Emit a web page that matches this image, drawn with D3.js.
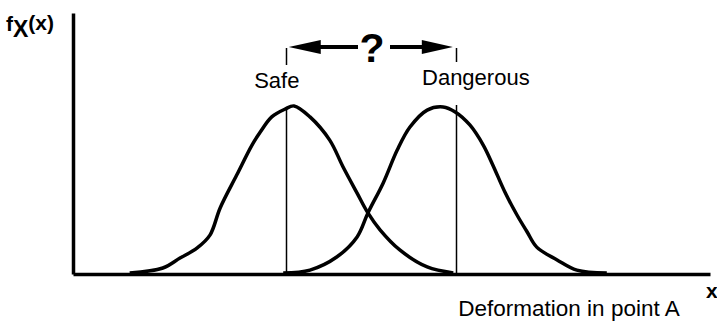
<!DOCTYPE html>
<html>
<head>
<meta charset="utf-8">
<script src="https://cdn.jsdelivr.net/npm/d3@7"></script>
<style>
  html, body { margin: 0; padding: 0; background: #fff; }
  svg { display: block; font-family: Arial, "Liberation Sans", Helvetica, sans-serif; }
</style>
</head>
<body>
<div id="chart"></div>
<script>
// deformation values (x) and density (y)
const safeX = [8.9, 14.1, 16.8, 19.5, 21.5, 23.1, 25.7, 28.1, 29.4, 31.2, 33.3, 34.7,
  37.2, 40.3, 42.4, 44.6, 46.3, 48.2, 51.3, 55.6, 59.7];
const safeY = [0.004, 0.023, 0.061, 0.100, 0.149, 0.253, 0.379, 0.494, 0.544, 0.602, 0.632, 0.644,
  0.602, 0.513, 0.410, 0.310, 0.234, 0.169, 0.092, 0.027, 0.004];

const dangerX = [33.0, 37.2, 41.4, 44.6, 46.3, 48.7, 50.9, 52.9, 55.6, 58.1, 60.0,
  62.3, 64.4, 65.9, 67.8, 69.7, 71.3, 72.8, 76.0, 79.1, 83.8];
const dangerY = [0.004, 0.015, 0.065, 0.142, 0.234, 0.349, 0.475, 0.563, 0.628, 0.640, 0.621,
  0.571, 0.494, 0.418, 0.314, 0.226, 0.161, 0.103, 0.054, 0.015, 0.004];

const markerLabels = ['Safe', 'Dangerous'];
const markerX = [33.4, 60.1];

const width = 717, height = 322;
const margin = { top: 13, right: 5, bottom: 48, left: 73 };

const x = d3.scaleLinear().domain([0, 100]).range([margin.left, width - margin.right - 2]);
const y = d3.scaleLinear().domain([0, 1]).range([height - margin.bottom, margin.top]);

const svg = d3.select('#chart').append('svg')
  .attr('width', width)
  .attr('height', height);

// axes: plain lines, no ticks
svg.append('g')
  .attr('transform', 'translate(0,' + y(0) + ')')
  .call(d3.axisBottom(x).tickValues([]).tickSizeOuter(0));
svg.append('g')
  .attr('transform', 'translate(' + x(0) + ',0)')
  .call(d3.axisLeft(y).tickValues([]).tickSizeOuter(0));
svg.selectAll('.domain')
  .attr('stroke', '#000')
  .attr('stroke-width', 3.5);

// vertical limit lines, broken around their labels
const vTop = 48, gapTop = [65, 62], gapBottom = [107, 105];
markerX.forEach((mx, i) => {
  const px = Math.round(x(mx)) + 0.5;
  svg.append('line')
    .attr('x1', px).attr('x2', px)
    .attr('y1', vTop).attr('y2', gapTop[i])
    .attr('stroke', '#000').attr('stroke-width', 1.5);
  svg.append('line')
    .attr('x1', px).attr('x2', px)
    .attr('y1', gapBottom[i]).attr('y2', y(0))
    .attr('stroke', '#000').attr('stroke-width', 1.5);
});

svg.append('text')
  .attr('x', x(markerX[0]) - 9)
  .attr('y', 88)
  .attr('text-anchor', 'middle')
  .attr('font-size', 22)
  .text(markerLabels[0]);
svg.append('text')
  .attr('x', x(markerX[1]) + 20)
  .attr('y', 85)
  .attr('text-anchor', 'middle')
  .attr('font-size', 22)
  .text(markerLabels[1]);

// density curves
const line = d3.line()
  .x((d) => x(d[0]))
  .y((d) => y(d[1]))
  .curve(d3.curveCatmullRom);

[[safeX, safeY], [dangerX, dangerY]].forEach(([xs, ys]) => {
  svg.append('path')
    .datum(xs.map((v, i) => [v, ys[i]]))
    .attr('fill', 'none')
    .attr('stroke', '#000')
    .attr('stroke-width', 3.5)
    .attr('stroke-linejoin', 'round')
    .attr('d', line);
});

// double arrow with question mark
const ay = 47;
const leftTip = x(markerX[0]) + 3, rightTip = x(markerX[1]) - 3;
svg.append('path')
  .attr('d', 'M' + leftTip + ',' + ay + 'L' + (leftTip + 32) + ',' + (ay - 7) + 'L' + (leftTip + 32) + ',' + (ay + 7) + 'Z')
  .attr('fill', '#000');
svg.append('line')
  .attr('x1', leftTip + 30).attr('x2', 358)
  .attr('y1', ay).attr('y2', ay)
  .attr('stroke', '#000').attr('stroke-width', 4);
svg.append('path')
  .attr('d', 'M' + rightTip + ',' + ay + 'L' + (rightTip - 31) + ',' + (ay - 7) + 'L' + (rightTip - 31) + ',' + (ay + 7) + 'Z')
  .attr('fill', '#000');
svg.append('line')
  .attr('x1', 390).attr('x2', rightTip - 29)
  .attr('y1', ay).attr('y2', ay)
  .attr('stroke', '#000').attr('stroke-width', 4);
svg.append('text')
  .attr('x', 372)
  .attr('y', 62)
  .attr('text-anchor', 'middle')
  .attr('font-size', 41)
  .attr('font-weight', 'bold')
  .text('?');

// axis titles
const yTitle = svg.append('text')
  .attr('x', 6)
  .attr('y', 31)
  .attr('font-weight', 'bold')
  .attr('font-size', 21);
yTitle.append('tspan').text('f');
yTitle.append('tspan').attr('font-size', 23).attr('dy', 6).text('X');
yTitle.append('tspan').attr('dy', -7).text('(x)');

svg.append('text')
  .attr('x', 706)
  .attr('y', 298)
  .attr('font-weight', 'bold')
  .attr('font-size', 21)
  .text('x');

svg.append('text')
  .attr('x', 569)
  .attr('y', 316)
  .attr('text-anchor', 'middle')
  .attr('font-size', 22.5)
  .text('Deformation in point A');
</script>
</body>
</html>
